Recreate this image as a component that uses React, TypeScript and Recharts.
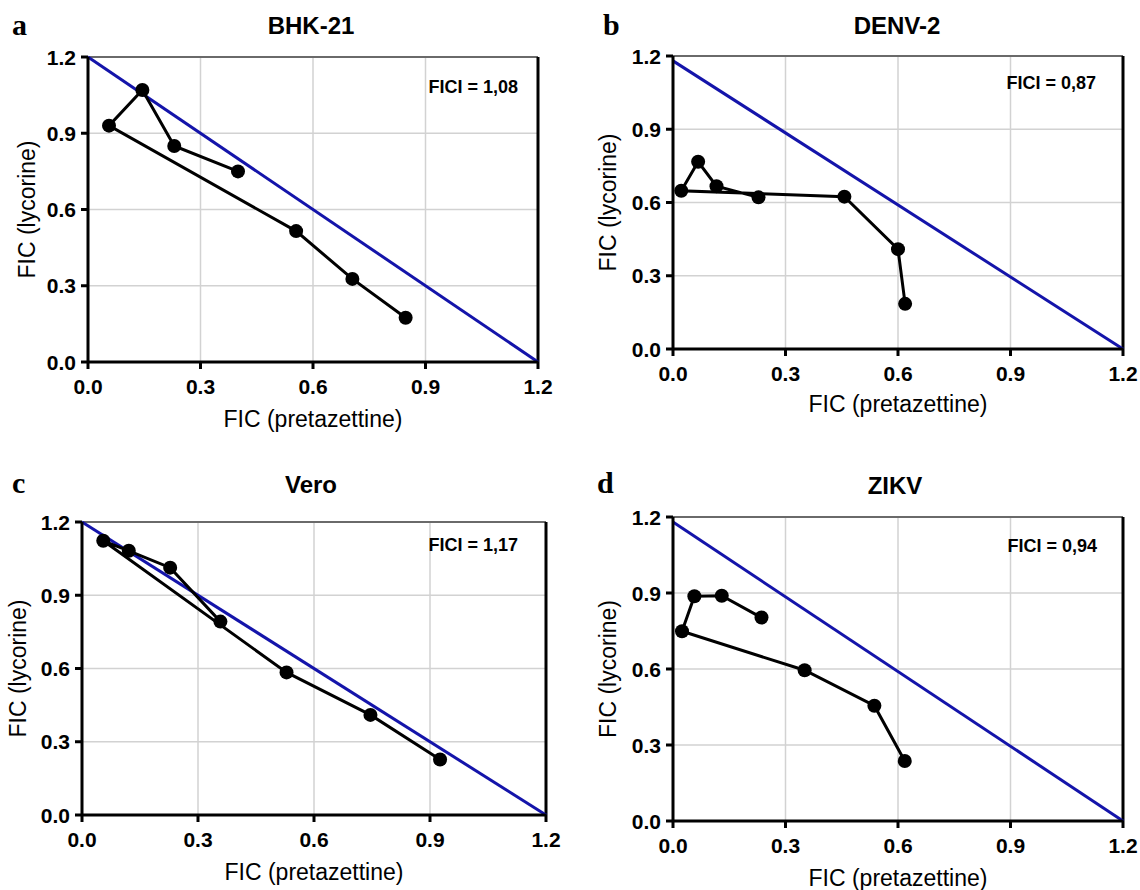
import React from 'react';
import { ScatterChart, Scatter, XAxis, YAxis, CartesianGrid, ReferenceLine } from 'recharts';

const ticks = [0, 0.3, 0.6, 0.9, 1.2];

const bhkX = [0.4, 0.23, 0.145, 0.056, 0.555, 0.705, 0.847];
const bhkY = [0.75, 0.85, 1.07, 0.93, 0.515, 0.327, 0.174];

const denvX = [0.228, 0.116, 0.067, 0.022, 0.457, 0.6, 0.619];
const denvY = [0.621, 0.667, 0.767, 0.648, 0.624, 0.409, 0.185];

const veroX = [0.358, 0.228, 0.121, 0.055, 0.529, 0.746, 0.926];
const veroY = [0.792, 1.013, 1.082, 1.123, 0.584, 0.41, 0.227];

const zikvX = [0.236, 0.13, 0.057, 0.024, 0.351, 0.537, 0.618];
const zikvY = [0.803, 0.889, 0.887, 0.749, 0.595, 0.455, 0.237];

const titles = ['BHK-21', 'DENV-2', 'Vero', 'ZIKV'];
const letters = ['a', 'b', 'c', 'd'];
const ficiLabels = ['FICI = 1,08', 'FICI = 0,87', 'FICI = 1,17', 'FICI = 0,94'];
const diagStart = [1.2, 1.18, 1.2, 1.18];

const SANS = '"Liberation Sans", Arial, sans-serif';
const SERIF = '"Liberation Serif", "Times New Roman", serif';
const BLUE = '#1414aa';
const TICK_FS = 21;

type Layout = {
  x0: number; y0: number; x1: number; y1: number;
  titleC: number; titleB: number;
  letterX: number; letterB: number;
  ficiR: number; ficiB: number;
  yTitleX: number; xTitleB: number;
};

const layouts: Layout[] = [
  { x0: 88, y0: 57, x1: 538, y1: 362, titleC: 311, titleB: 34, letterX: 12, letterB: 35, ficiR: 518, ficiB: 93, yTitleX: 27, xTitleB: 427 },
  { x0: 673, y0: 56, x1: 1123, y1: 349, titleC: 897, titleB: 34, letterX: 603, letterB: 35, ficiR: 1096, ficiB: 89, yTitleX: 608, xTitleB: 412 },
  { x0: 82, y0: 522, x1: 546, y1: 815, titleC: 311, titleB: 493, letterX: 12, letterB: 493, ficiR: 518, ficiB: 551, yTitleX: 18, xTitleB: 880 },
  { x0: 673, y0: 517, x1: 1123, y1: 821, titleC: 895, titleB: 494, letterX: 597, letterB: 493, ficiR: 1097, ficiB: 552, yTitleX: 608, xTitleB: 886 },
];

const seriesX = [bhkX, denvX, veroX, zikvX];
const seriesY = [bhkY, denvY, veroY, zikvY];

const Dot = (p: any) => <circle cx={p.cx} cy={p.cy} r={7} fill="#000" />;

const XTick = (p: any) => (
  <text x={p.x} y={p.y} dy="0.72em" textAnchor="middle" style={{ fontFamily: SANS, fontWeight: 700, fontSize: TICK_FS }} fill="#000">
    {Number(p.payload.value).toFixed(1)}
  </text>
);

const YTick = (p: any) => (
  <text x={p.x} y={p.y} dy="0.36em" textAnchor="end" style={{ fontFamily: SANS, fontWeight: 700, fontSize: TICK_FS }} fill="#000">
    {Number(p.payload.value).toFixed(1)}
  </text>
);

const LEFT = 90;
const TOP = 40;
const RIGHT = 16;

function Panel({ i }: { i: number }) {
  const L = layouts[i];
  const data = seriesX[i].map((x, k) => ({ x, y: seriesY[i][k] }));
  const plotW = L.x1 - L.x0;
  const plotH = L.y1 - L.y0;
  const xH = L.xTitleB - L.y1;
  const w = LEFT + plotW + RIGHT;
  const h = TOP + plotH + xH + 10;
  const left = L.x0 - LEFT;
  const top = L.y0 - TOP;
  const titleFs = 24;
  const letterFs = 30;
  const ficiFs = 18;
  const axisTitleFs = 23;
  return (
    <>
      <div style={{ position: 'absolute', left, top }}>
        <ScatterChart width={w} height={h} margin={{ top: TOP, right: RIGHT, left: 0, bottom: 10 }}>
          <CartesianGrid stroke="#d2d2d2" strokeWidth={1.5} />
          <XAxis
            type="number"
            dataKey="x"
            domain={[0, 1.2]}
            ticks={ticks}
            height={xH}
            tickSize={7}
            tickMargin={10}
            tick={XTick}
            axisLine={{ stroke: '#000', strokeWidth: 3 }}
            tickLine={{ stroke: '#000', strokeWidth: 3 }}
            label={{ value: 'FIC (pretazettine)', position: 'insideBottom', offset: 0, fontSize: axisTitleFs, style: { fontFamily: SANS, fontSize: axisTitleFs, fill: '#000' } }}
          />
          <YAxis
            type="number"
            dataKey="y"
            domain={[0, 1.2]}
            ticks={ticks}
            width={LEFT}
            tickSize={7}
            tickMargin={5}
            tick={YTick}
            axisLine={{ stroke: '#000', strokeWidth: 3 }}
            tickLine={{ stroke: '#000', strokeWidth: 3 }}
            label={{ value: 'FIC (lycorine)', angle: -90, position: 'insideLeft', offset: L.yTitleX - left, fontSize: axisTitleFs, style: { fontFamily: SANS, fontSize: axisTitleFs, fill: '#000', textAnchor: 'middle' } }}
          />
          <ReferenceLine y={1.2} stroke="#6a6a6a" strokeWidth={2} />
          <ReferenceLine x={1.2} stroke="#000" strokeWidth={3} />
          <ReferenceLine segment={[{ x: 0, y: diagStart[i] }, { x: 1.2, y: 0 }]} stroke={BLUE} strokeWidth={3} />
          <Scatter
            data={data}
            line={{ stroke: '#000', strokeWidth: 3 }}
            lineType="joint"
            shape={Dot}
            isAnimationActive={false}
          />
        </ScatterChart>
      </div>
      <div style={{ position: 'absolute', left: L.titleC - 150, width: 300, top: L.titleB - 0.847 * titleFs, textAlign: 'center', fontFamily: SANS, fontWeight: 700, fontSize: titleFs, lineHeight: 1, color: '#000' }}>
        {titles[i]}
      </div>
      <div style={{ position: 'absolute', left: L.letterX, top: L.letterB - 0.8375 * letterFs, fontFamily: SERIF, fontWeight: 700, fontSize: letterFs, lineHeight: 1, color: '#000' }}>
        {letters[i]}
      </div>
      <div style={{ position: 'absolute', left: L.ficiR - 200, width: 200, top: L.ficiB - 0.847 * ficiFs, textAlign: 'right', fontFamily: SANS, fontWeight: 700, fontSize: ficiFs, lineHeight: 1, color: '#000' }}>
        {ficiLabels[i]}
      </div>
    </>
  );
}

export default function App() {
  return (
    <div style={{ position: 'absolute', left: 0, top: 0, width: 1140, height: 890, background: '#fff', overflow: 'hidden' }}>
      {[0, 1, 2, 3].map((i) => (
        <Panel key={i} i={i} />
      ))}
    </div>
  );
}
